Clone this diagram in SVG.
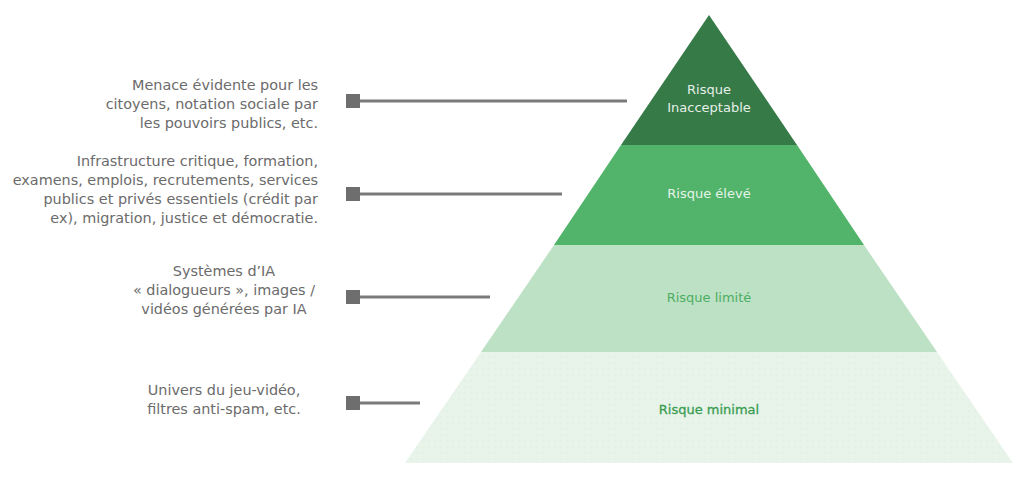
<svg xmlns="http://www.w3.org/2000/svg" width="1024" height="477" viewBox="0 0 1024 477">
<defs>
<style>
.desc{font-family:"DejaVu Sans","Liberation Sans",sans-serif;font-size:14.4px;fill:#6b6b6b}
.r{text-anchor:end}
.c{text-anchor:middle}
.lvl{font-family:"DejaVu Sans","Liberation Sans",sans-serif;font-size:13px;text-anchor:middle}
.conn line{stroke:#7a7a7a;stroke-width:3}
.conn rect{fill:#6e6e6e}
</style>
<pattern id="dots" width="6" height="6" patternUnits="userSpaceOnUse">
<rect width="6" height="6" fill="#e8f4ea"/>
<circle cx="3" cy="3" r="0.5" fill="#d2e6d6"/>
</pattern>
</defs>
<rect width="1024" height="477" fill="#ffffff"/>
<g id="level-minimal">
<polygon points="481,352 937,352 1013,463 405,463" fill="url(#dots)"/>
<text class="lvl" x="709" y="414" fill="#3a9d52" stroke="#3a9d52" stroke-width="0.3">Risque minimal</text>
</g>
<g id="level-limite">
<polygon points="554,245 864,245 937,352 481,352" fill="#bde1c5"/>
<text class="lvl" x="709" y="302" fill="#4cae62">Risque limité</text>
</g>
<g id="level-eleve">
<polygon points="621,145 797,145 864,245 554,245" fill="#52b36b"/>
<text class="lvl" x="709" y="198" fill="#e6f3e8">Risque élevé</text>
</g>
<g id="level-inacceptable">
<polygon points="709,15 797,145 621,145" fill="#367a48"/>
<text class="lvl" x="709" y="94" fill="#e6f0e8">Risque</text>
<text class="lvl" x="709" y="112" fill="#e6f0e8">Inacceptable</text>
</g>
<g id="desc-1">
<text class="desc r" x="318" y="90">Menace évidente pour les</text>
<text class="desc r" x="318" y="109">citoyens, notation sociale par</text>
<text class="desc r" x="318" y="128">les pouvoirs publics, etc.</text>
</g>
<g id="desc-2">
<text class="desc r" x="318" y="166">Infrastructure critique, formation,</text>
<text class="desc r" x="318" y="185">examens, emplois, recrutements, services</text>
<text class="desc r" x="318" y="204">publics et privés essentiels (crédit par</text>
<text class="desc r" x="318" y="223">ex), migration, justice et démocratie.</text>
</g>
<g id="desc-3">
<text class="desc c" x="224" y="276">Systèmes d’IA</text>
<text class="desc c" x="224" y="295">« dialogueurs », images /</text>
<text class="desc c" x="224" y="314">vidéos générées par IA</text>
</g>
<g id="desc-4">
<text class="desc c" x="224" y="395">Univers du jeu-vidéo,</text>
<text class="desc c" x="224" y="414">filtres anti-spam, etc.</text>
</g>
<g id="connectors" class="conn">
<line x1="358" y1="101" x2="627" y2="101"/>
<rect x="346" y="94" width="14" height="14"/>
<line x1="358" y1="194" x2="562" y2="194"/>
<rect x="346" y="187" width="14" height="14"/>
<line x1="358" y1="297" x2="490" y2="297"/>
<rect x="346" y="290" width="14" height="14"/>
<line x1="358" y1="403" x2="420" y2="403"/>
<rect x="346" y="396" width="14" height="14"/>
</g>
</svg>
